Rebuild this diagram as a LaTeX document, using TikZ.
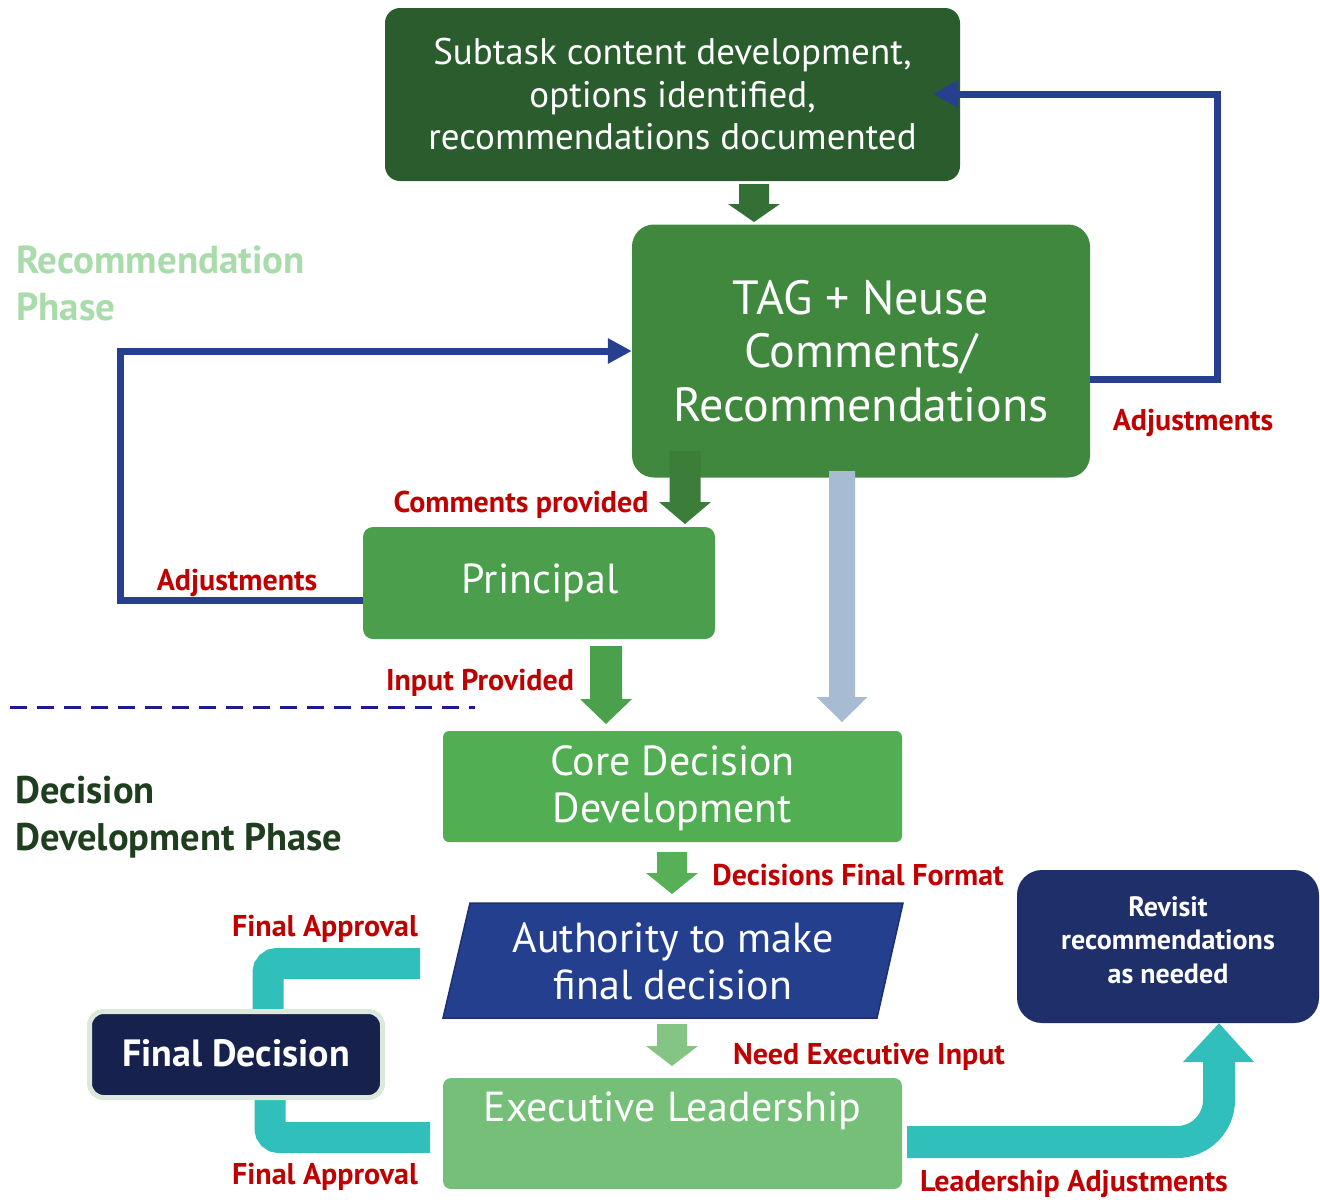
\documentclass[tikz,border=0pt]{standalone}
\usepackage{fontspec}
\setmainfont{PT Sans}
\usetikzlibrary{arrows.meta}
\definecolor{topgreen}{HTML}{2A5C2D}
\definecolor{taggreen}{HTML}{41883F}
\definecolor{prgreen}{HTML}{4A9E4C}
\definecolor{coregreen}{HTML}{52AE52}
\definecolor{execgreen}{HTML}{76BF78}
\definecolor{authblue}{HTML}{253F8F}
\definecolor{authedge}{HTML}{1C2F70}
\definecolor{revblue}{HTML}{1E2F6A}
\definecolor{finnavy}{HTML}{16224D}
\definecolor{finedge}{HTML}{DCE8DC}
\definecolor{teal}{HTML}{31BFBC}
\definecolor{lblue}{HTML}{A7BCD3}
\definecolor{lineblue}{HTML}{263F8E}
\definecolor{labred}{HTML}{C00000}
\definecolor{recphase}{HTML}{A9DCAA}
\definecolor{decphase}{HTML}{1F3D1F}
\definecolor{dashblue}{HTML}{1C1C8C}
\newcommand\blkdown[7]{\fill[#7] ({#1-#4/2},#2) -- ({#1+#4/2},#2) -- ({#1+#4/2},#6) -- ({#1+#5/2},#6) -- (#1,#3) -- ({#1-#5/2},#6) -- ({#1-#4/2},#6) -- cycle;}
\begin{document}
\begin{tikzpicture}[x=1pt,y=-1pt,
  box/.style={rectangle, inner sep=0pt, text=white, align=center},
  redlab/.style={text=labred, font=\fontsize{30}{34}\selectfont\bfseries, inner sep=0pt, yshift=-3pt},
  conn/.style={draw=lineblue, line width=7pt},
  tealband/.style={draw=teal, line width=31pt}]
\useasboundingbox (0,0) rectangle (1320,1203);

% boxes
\node[box, fill=topgreen, rounded corners=15pt, minimum width=575pt, minimum height=173pt,
  font=\fontsize{37}{42.5}\selectfont] (top) at (672.5,94.5)
  {Subtask content development,\\options identified,\\recommendations documented};
\node[box, fill=taggreen, rounded corners=22pt, minimum width=458pt, minimum height=253pt,
  font=\fontsize{48}{53.5}\selectfont] (tag) at (861,351)
  {TAG + Neuse\\Comments/\\Recommendations};
\node[box, fill=prgreen, rounded corners=10pt, minimum width=352pt, minimum height=112pt] (prin) at (539,583) {};
\node[box, font=\fontsize{42}{47}\selectfont] (printext) at (540,583) {Principal};
\node[box, fill=coregreen, rounded corners=6pt, minimum width=459pt, minimum height=111pt] (core) at (672.5,786.5) {};
\node[box, font=\fontsize{42}{47}\selectfont] (coretext) at (672.5,788) {Core Decision\\Development};
\node[box, fill=execgreen, rounded corners=8pt, minimum width=459pt, minimum height=111pt] (exec) at (672.5,1133.5) {};
\node[box, font=\fontsize{42}{47}\selectfont] (exectext) at (672.5,1111) {Executive Leadership};
\node[box, fill=revblue, rounded corners=25pt, minimum width=302pt, minimum height=153pt] (rev) at (1168,946.5) {};
\node[box, font=\fontsize{28}{33.5}\selectfont\bfseries] (revtext) at (1168,940)
  {Revisit\\recommendations\\as needed};

% parallelogram
\filldraw[fill=authblue, draw=authedge, line width=1.5pt] (470,903) -- (903,903) -- (877,1018) -- (443,1018) -- cycle;
\node[box, font=\fontsize{42}{47}\selectfont] (auth) at (673,961) {Authority to make\\final decision};

% block arrows
\blkdown{754}{184}{222}{30}{52}{204}{topgreen!55!taggreen}
\blkdown{685}{451}{524}{31}{52}{502}{taggreen!92!black}
\blkdown{606}{646}{724}{32}{52}{699}{prgreen!90!coregreen}
\blkdown{842}{471}{722}{26}{51}{697}{lblue}
\blkdown{672}{852}{894}{30}{52}{873}{coregreen!85!execgreen}
\blkdown{672}{1024}{1066}{30}{52}{1046}{execgreen!90!white}

% blue feedback connectors
\coordinate (rA) at (1217,379);
\coordinate (rB) at (1217,94);
\draw[conn, -{Triangle[length=25pt,width=26pt]}] (tag.east |- rA) -- (rA) -- (rB) -- (933,94);
\coordinate (lA) at (120,600);
\coordinate (lB) at (120,351);
\draw[conn, -{Triangle[length=24pt,width=24pt]}] (prin.west |- lA) -- (lA) -- (lB) -- (tag.west |- lB);

% dashed separator
\draw[dashblue, line width=3pt, dash pattern=on 17pt off 10pt] (10,707) -- (475,707);

% teal brackets to final decision
\draw[tealband, rounded corners=9pt] (420,963.5) -- (268,963.5) -- (268,1020);
\draw[tealband, rounded corners=9pt] (270,1090) -- (270,1137.5) -- (430,1137.5);
\node[box, draw=finedge, fill=finnavy, line width=5pt, rounded corners=14pt,
  minimum width=293pt, minimum height=86pt] (fin) at (236,1054.5) {};
\node[box, font=\fontsize{38}{44}\selectfont\bfseries] (fintext) at (236,1053) {Final Decision};

% teal arrow to revisit
\draw[draw=teal, line width=32pt, rounded corners=42pt] (exec.east |- 0,1142) ++(5,0) -- (1219,1142) -- (1219,1061);
\fill[teal] (1183,1062) -- (1254,1062) -- (rev.south -| 1219,0) ++(0,1) -- cycle;

% red labels
\node[redlab] at (1193,420) {Adjustments};
\node[redlab] at (237,580) {Adjustments};
\node[redlab] at (521,502) {Comments provided};
\node[redlab] at (480,680) {Input Provided};
\node[redlab] at (858,872) {Decisions Final Format};
\node[redlab] at (869,1054) {Need Executive Input};
\node[redlab] at (1074,1181) {Leadership Adjustments};
\node[redlab] at (325,926) {Final Approval};
\node[redlab] at (325,1174) {Final Approval};

% phase labels
\node[anchor=west, align=left, inner sep=0pt, text=recphase, font=\fontsize{39}{47}\selectfont\bfseries] (recp) at (16,283.5) {Recommendation\\Phase};
\node[anchor=west, align=left, inner sep=0pt, text=decphase, font=\fontsize{38.5}{47}\selectfont\bfseries] (decp) at (15,817.5) {Decision\\Development Phase};
\end{tikzpicture}
\end{document}
